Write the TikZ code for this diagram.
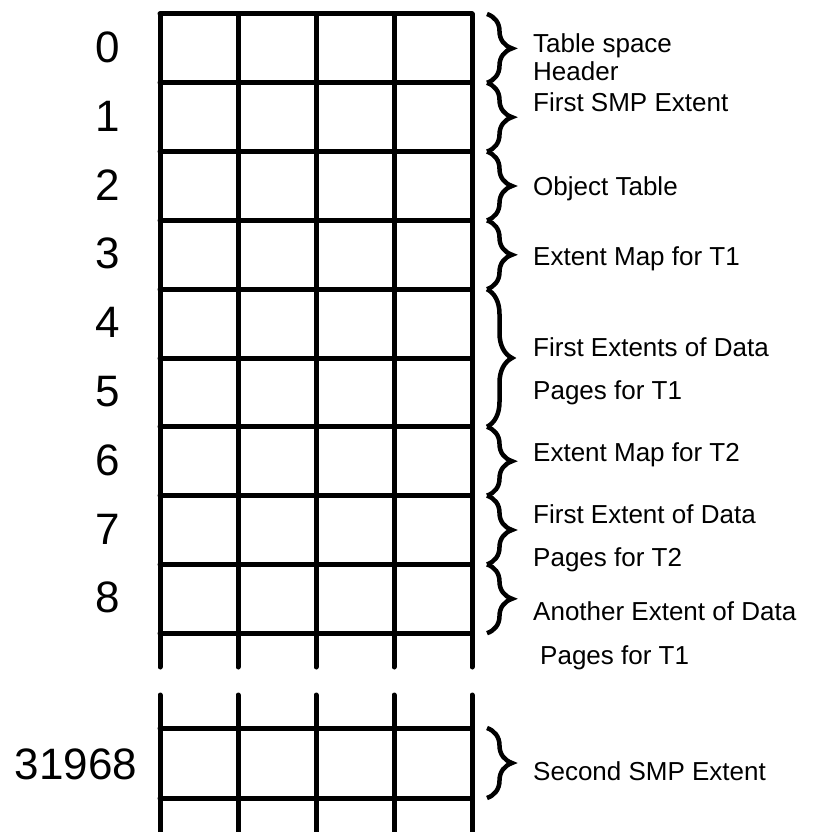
\documentclass[tikz,border=0pt]{standalone}
\usepackage{fontspec}
\setmainfont{Liberation Sans}
\usetikzlibrary{decorations.pathreplacing}
\tikzset{
  gridline/.style={line width=5pt, line cap=round},
  extbrace/.style={decorate, decoration={brace, amplitude=25pt}, line width=4.5pt},
  pagenum/.style={font=\fontsize{44}{44}\selectfont, anchor=base, inner sep=0pt},
  extlabel/.style={font=\fontsize{26}{26}\selectfont, anchor=base west, inner sep=0pt},
}
\begin{document}
\begin{tikzpicture}[x=1pt, y=-1pt]
    \useasboundingbox (0,0) rectangle (815,832);
    % Upper pages 0--8
    \foreach \c in {0,...,4}
        \draw[gridline] (160+78*\c,14) -- (160+78*\c,667);
    \foreach \r in {0,...,9} {
        \draw[gridline] (160,14+68.8*\r) -- (472,14+68.8*\r);
        \coordinate (b\r) at (487,14+68.8*\r);
    }
    \foreach \r in {0,...,8}
        \node[pagenum] (p\r) at (108,{62.5+68.8*\r}) {\r};

    % Braces for the extents
    \foreach \s/\e in {0/1,1/2,2/3,3/4,4/6,6/7,7/8,8/9}
        \draw[extbrace] (b\s) -- (b\e);

    \node[extlabel] (ts)   at (533,53)  {Table space};
    \node[extlabel] (hd)   at (533,81)  {Header};
    \node[extlabel] (smp1) at (533,112) {First SMP Extent};
    \node[extlabel] (ot)   at (533,195) {Object Table};
    \node[extlabel] (em1)  at (533,265) {Extent Map for T1};
    \node[extlabel] (fe1a) at (533,356) {First Extents of Data};
    \node[extlabel] (fe1b) at (533,399) {Pages for T1};
    \node[extlabel] (em2)  at (533,461) {Extent Map for T2};
    \node[extlabel] (fe2a) at (533,523) {First Extent of Data};
    \node[extlabel] (fe2b) at (533,566) {Pages for T2};
    \node[extlabel] (ae1a) at (533,620) {Another Extent of Data};
    \node[extlabel] (ae1b) at (540,664) {Pages for T1};

    % Lower page 31968
    \foreach \c in {0,...,4}
        \draw[gridline] (160+78*\c,695) -- (160+78*\c,834);
    \foreach \y in {728,798}
        \draw[gridline] (160,\y) -- (472,\y);
    \coordinate (c0) at (487,728);
    \coordinate (c1) at (487,798);
    \draw[extbrace] (c0) -- (c1);
    \node[pagenum] (pn) at (76,779) {31968};
    \node[extlabel] (smp2) at (533,780) {Second SMP Extent};
\end{tikzpicture}
\end{document}
